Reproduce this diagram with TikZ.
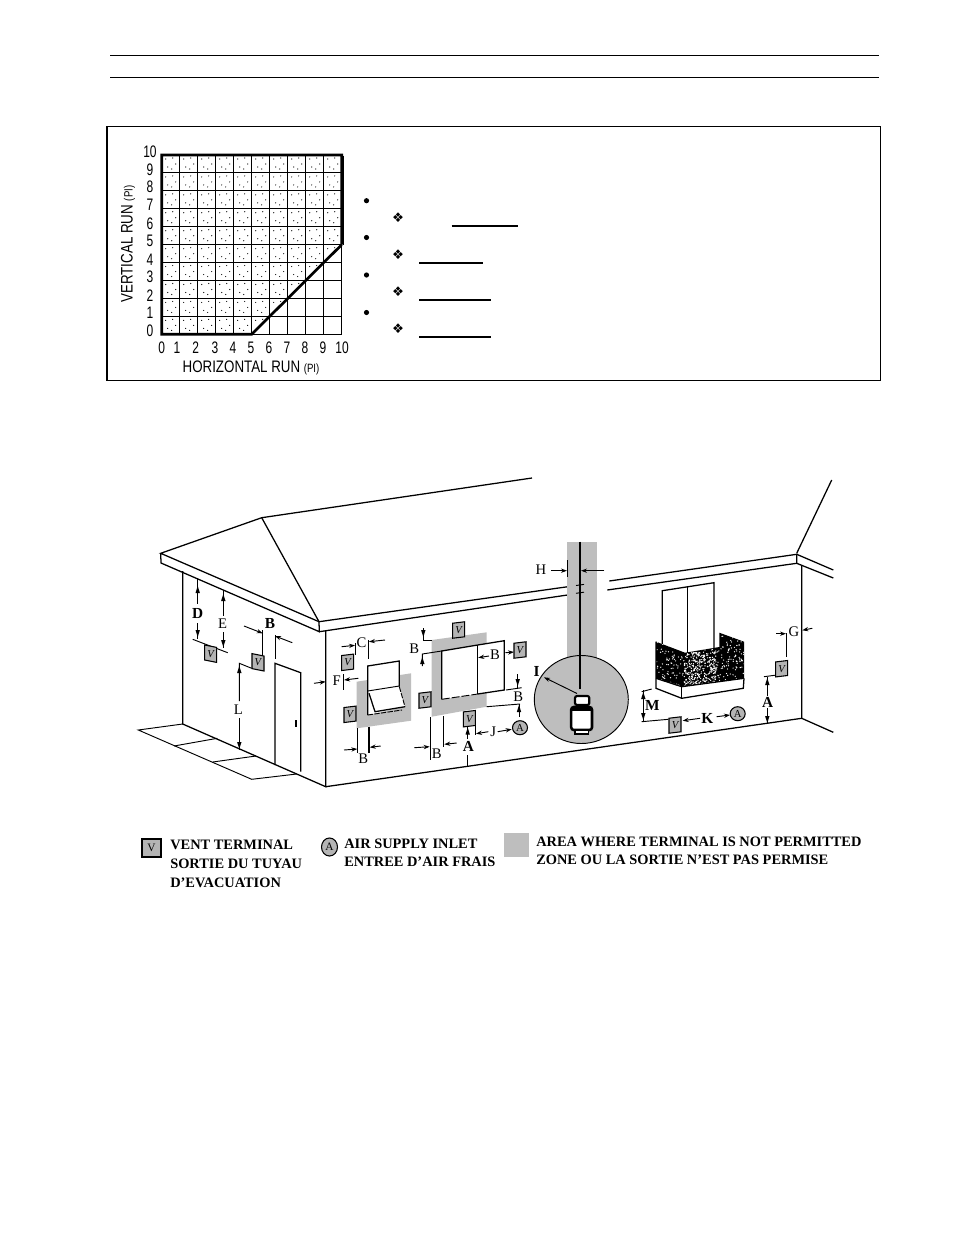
\documentclass[tikz,border=0pt]{standalone}
\usepackage{fontspec}
\usetikzlibrary{arrows.meta}
\setmainfont{Liberation Serif}
\newfontfamily\cadfont{Liberation Sans}
\newfontfamily\symfont{DejaVu Sans}
\definecolor{zonegray}{HTML}{BEBEBE}
\definecolor{termgray}{HTML}{B4B4B4}
\tikzset{
  wall/.style={line width=.95pt,black},
  thinl/.style={line width=.7pt,black},
  gridl/.style={line width=.7pt,black},
  heavy/.style={line width=2pt,black},
  zone/.style={fill=zonegray,draw=none},
  dimar/.style={line width=.7pt,-{Stealth[length=4.5pt,width=3.2pt]}},
  dimlabel/.style={font=\fontsize{11}{11}\selectfont,inner sep=0pt},
  dimbold/.style={font=\fontsize{11.5}{11}\selectfont\bfseries,inner sep=0pt},
  cad/.style={font=\fontsize{12.5}{12}\selectfont\cadfont,inner sep=0pt},
  legend/.style={font=\fontsize{10.8}{11}\selectfont\bfseries,inner sep=0pt,anchor=west},
}
\newcommand{\cadtext}[1]{\scalebox{.72}[1]{#1}}
\newcommand{\vterm}[3]{%
  \filldraw[fill=termgray,draw=black,line width=.8pt]
    (#1-6,#2-7.5-#3*1.2) -- (#1+6,#2-7.5+#3*1.2) -- (#1+6,#2+7.5+#3*1.2) -- (#1-6,#2+7.5-#3*1.2) -- cycle;
  \node[inner sep=0pt,font=\fontsize{8}{8}\selectfont\itshape] at (#1,#2) {V};}
\newcommand{\airin}[2]{%
  \filldraw[fill=termgray,draw=black,line width=.8pt] (#1,#2) ellipse [x radius=7.5,y radius=7];
  \node[inner sep=0pt,font=\fontsize{8}{8}\selectfont] at (#1,#2) {A};}
\newcommand{\dtip}[3]{\fill[shift={(#1,#2)},rotate=#3] (0,0) -- (-7,-2.2) -- (-7,2.2) -- cycle;}
\begin{document}
\begin{tikzpicture}[x=.75pt,y=-.75pt]
\useasboundingbox (0,0) rectangle (954,1235);
\fill[white] (0,0) rectangle (954,1235);
% header
\draw[line width=.75pt] (110,55.5) -- (879,55.5);
\draw[line width=.75pt] (110,77.5) -- (879,77.5);
\draw[line width=.8pt] (107,126.5) rectangle (880.5,380.5);
% chart
\begin{scope}
\clip (161.7,334.3) -- (251.7,334.3) -- (341.7,244.7) -- (341.7,155) -- (161.7,155) -- cycle;
\foreach \i in {0,...,9}{\foreach \j in {0,...,9}{
  \foreach \a/\b in {4/4,11/3,14/9,6/12,10/14}{
    \fill (161.7+18*\i+\a,155+17.93*\j+\b) circle [radius=.6];}}}
\end{scope}
\foreach \i in {0,...,10}{
  \draw[gridl] (161.7+18*\i,155) -- (161.7+18*\i,334.3);
  \draw[gridl] (161.7,155+17.93*\i) -- (341.7,155+17.93*\i);}
\draw[heavy] (341.7,244.7) -- (251.7,334.3) -- (161.7,334.3) -- (161.7,155) -- (341.7,155) -- (341.7,244.7);
\draw[line width=.9pt] (343.7,155.5) -- (343.7,245);
\foreach \t/\y in {10/152,9/170,8/187,7/205,6/224,5/241,4/260,3/277,2/296,1/313,0/331}{
  \node[cad] at (150,\y) {\cadtext{\t}};}
\foreach \t/\x in {0/161.7,1/177,2/195.7,3/215,4/233,5/251,6/269,7/287,8/305,9/323,10/342}{
  \node[cad] at (\x,348) {\cadtext{\t}};}
\node[cad,rotate=90] at (128,244) {\scalebox{.8}[1]{VERTICAL RUN \fontsize{9}{9}\selectfont(PI)}};
\node[cad] at (251,367.7) {\scalebox{.8}[1]{HORIZONTAL RUN \fontsize{9}{9}\selectfont(PI)}};
% list marks
\foreach \y in {200.7,237.5,275,312.5}{\fill (366.5,\y) circle [radius=2.6];}
\foreach \y in {217.7,254.5,292,329}{\node[inner sep=0pt,font=\fontsize{10}{10}\selectfont\symfont] at (398,\y) {❖};}
\draw[line width=1.4pt] (451.7,225.7) -- (517.7,225.7);
\draw[line width=.8pt] (419.3,263) -- (482.7,263);
\draw[line width=.8pt] (419.3,300) -- (491,300);
\draw[line width=.8pt] (419.3,337) -- (491,337);
% roof
\draw[wall] (532,478) -- (261.7,517.7) -- (160.7,553.3) -- (319,621.7) -- (319.3,631.7) -- (161,563) -- (160.7,553.3);
\draw[wall] (261.7,517.7) -- (319,621.7);
\draw[wall] (319,621.7) -- (580,585);
\draw[wall] (319.3,631.7) -- (583,592.7);
\draw[wall] (609.3,581) -- (796.7,554.3) -- (796.7,563.3) -- (607.3,590);
\draw[wall] (796.7,553.3) -- (831.7,480);
\draw[wall] (796.7,554.3) -- (833.3,570);
\draw[wall] (796.7,563.3) -- (833.3,578);
% walls
\draw[wall] (182.7,571) -- (182.7,724) -- (325.7,786.7) -- (325.7,631);
\draw[wall] (325.7,786.7) -- (801.7,718.3) -- (801.7,565);
\draw[wall] (801.7,718.3) -- (833.3,732.3);
% pavement
\draw[thinl] (182.7,724) -- (138.3,730) -- (251.7,779.3) -- (296.7,774);
\draw[thinl] (174,746) -- (217.3,738.3);
\draw[thinl] (212.7,762) -- (256,756);
% door
\draw[wall] (275,765) -- (275,663.3) -- (300.7,672.7) -- (300.7,771.7);
\draw[line width=1.8pt] (295.7,720) -- (295.7,726.7);
% left wall dimensions
\draw[thinl] (197.7,578.3) -- (197.7,604);
\draw[thinl] (197.7,623) -- (197.7,638.5);
\draw[thinl] (192.7,639.3) -- (227.7,652.7);
\dtip{197.7}{586}{90}\dtip{197.7}{637}{-90}
\node[dimbold] at (197.7,613.3) {D};
\draw[thinl] (223.3,590) -- (223.3,616);
\draw[thinl] (223.3,632) -- (223.3,648.3);
\dtip{223.3}{594}{90}\dtip{223.3}{647}{-90}
\node[dimlabel] at (222.7,624) {E};
\vterm{210.7}{653.7}{1}
\vterm{258}{662.3}{1}
\draw[thinl] (262.7,630) -- (262.7,655);
\draw[dimar] (244,626) -- (262.7,633.3);
\draw[thinl] (275,635) -- (275,659.3);
\draw[dimar] (292.3,642.7) -- (275,636);
\node[dimbold] at (270,623.3) {B};
\draw[thinl] (251.7,668.3) -- (239.3,663.3) -- (239.3,701);
\draw[thinl] (239.3,718) -- (239.3,750);
\dtip{239.3}{666}{90}\dtip{239.3}{749}{-90}
\node[dimlabel] at (238.3,709.3) {L};
% window 1
\fill[zone] (356.7,681.7) -- (411,673.3) -- (411,720.7) -- (356.7,728.3) -- cycle;
\fill[white] (367.7,666) -- (399.3,661) -- (399.3,686.7) -- (405,706.7) -- (367.7,715) -- cycle;
\draw[wall] (367.7,715) -- (367.7,666) -- (399.3,661) -- (399.3,686.7);
\draw[thinl] (367.7,691) -- (399.3,686);
\draw[wall] (369,693.3) -- (375,711.7) -- (405,706.7);
\draw[thinl,dash pattern=on 4pt off 1pt] (399.3,686.7) -- (405,706.7);
\draw[thinl,dash pattern=on 4pt off 1pt] (367.7,715) -- (402,710);
\draw[thinl] (355.3,643) -- (355.3,655);
\draw[dimar] (341.7,646.7) -- (355,645.3);
\draw[wall] (368.3,640) -- (368.3,659.3);
\draw[dimar] (385,640) -- (369,641.7);
\node[dimlabel] at (361.5,642.3) {C};
\vterm{347.7}{662.3}{-.6}
\draw[dimar] (314,683.3) -- (325.7,681.7);
\node[dimlabel] at (336.7,680.3) {F};
\draw[thinl] (343.3,674) -- (343.3,690);
\draw[dimar] (358.3,678.3) -- (344,680);
\vterm{350}{714.3}{-.6}
\draw[thinl] (357.7,728.3) -- (357.7,753.3);
\draw[line width=1.3pt] (369,726.7) -- (369,752.7);
\draw[dimar] (344,750) -- (357.3,749);
\draw[dimar] (380.7,746) -- (369.7,747.3);
\node[dimlabel] at (363.3,758.3) {B};
% window 2
\fill[zone] (431.7,640) -- (486.7,632.3) -- (486.7,706.7) -- (431.7,716.7) -- cycle;
\fill[white] (441.7,651) -- (477.7,645) -- (486.7,643.5) -- (504.3,640.7) -- (504.3,690) -- (441.7,699.3) -- cycle;
\draw[wall] (477.7,645) -- (441.7,651) -- (441.7,699.3);
\draw[wall] (477.7,645) -- (477.7,694);
\draw[wall] (477.7,645) -- (504.3,640.7) -- (504.3,690) -- (477.7,694);
\draw[thinl,dash pattern=on 6pt off 1.5pt] (441.7,699.3) -- (477.7,694);
\draw[thinl] (423.3,628.3) -- (423.3,640) -- (431.7,640);
\draw[thinl] (422.3,666) -- (422.3,654) -- (441.7,651);
\dtip{423.3}{637}{-90}\dtip{422.3}{657}{90}
\node[dimlabel] at (414.3,648.3) {B};
\vterm{458.7}{630}{-.6}
\draw[dimar] (489,656) -- (478.2,657.7);
\node[dimlabel] at (495,655) {B};
\draw[dimar] (505.5,652.7) -- (514,652);
\vterm{520}{650}{-.6}
\draw[thinl] (506,690) -- (521.7,687.7);
\draw[thinl] (517.7,674.3) -- (517.7,688);
\dtip{517.7}{686}{-90}
\node[dimlabel] at (518.3,696.7) {B};
\draw[thinl] (486.7,706.7) -- (520,704);
\draw[thinl] (519,704) -- (519,717.3);
\dtip{519}{705}{90}
\vterm{425}{700}{-.6}
\vterm{469.3}{718.7}{-.6}
\draw[thinl] (430.7,717.3) -- (430.7,760);
\draw[thinl] (443.7,716) -- (443.7,746.7);
\draw[dimar] (414.3,747.7) -- (429.7,746.7);
\draw[dimar] (456.7,743) -- (444.3,744.3);
\node[dimlabel] at (436.7,753.3) {B};
\draw[thinl] (467.7,727) -- (467.7,739);
\dtip{467.7}{727.5}{90}
\node[dimbold] at (468.3,746.7) {A};
\draw[thinl] (467.7,755) -- (467.7,766.7);
\draw[thinl] (475.3,713.3) -- (475.3,735);
\draw[dimar] (488.3,731.7) -- (476,733.7);
\node[dimlabel] at (493.3,731.3) {J};
\draw[dimar] (497.7,731.7) -- (511.7,729.3);
\airin{520}{727.7}
% chimney zone and tank
\fill[zone] (567.3,542.3) rectangle (597.3,665);
\filldraw[fill=zonegray,draw=black,line width=.7pt] (581.3,699.5) ellipse [x radius=47,y radius=44];
\draw[line width=1.1pt] (580,541.7) -- (580,689);
\draw[thinl] (576,585.5) -- (584,584.4);
\draw[thinl] (576,593.3) -- (584,592.2);
\node[dimbold] at (536.7,671) {I};
\draw[thinl,{Stealth[length=4.5pt,width=3.2pt]}-] (544,677.3) -- (577,693.5);
\filldraw[fill=white,draw=black,line width=1.6pt,rounded corners=1.5pt] (575,696) rectangle (589.3,705);
\filldraw[fill=white,draw=black,line width=1.9pt,rounded corners=2pt] (571.2,707) rectangle (592,730);
\fill (572,706.5) rectangle (591.5,711);
\filldraw[fill=white,draw=black,line width=1.2pt] (575,730.5) rectangle (588.3,734);
\node[dimlabel] at (541,570) {H};
\draw[dimar] (551,570.7) -- (567,570.7);
\draw[thinl] (567.3,560) -- (567.3,576.7);
\draw[dimar] (604.3,570.7) -- (581,570.7);
% balcony
\draw[wall] (662.3,648) -- (662.3,590.7) -- (714,582.7) -- (714,650);
\draw[wall] (687.7,586.7) -- (687.7,655);
\begin{scope}
\clip (656,641.7) -- (685,652.7) -- (719.3,647) -- (719.3,632.7) -- (744,641.7) -- (744,678.3) -- (681.7,686.7) -- (656,678.3) -- cycle;
\fill[black] (650,625) rectangle (750,692);
\pgfmathsetseed{17}
\foreach \k in {1,...,420}{
  \pgfmathsetmacro{\px}{700+47*rand}
  \pgfmathsetmacro{\py}{662+28*rand}
  \fill[white] (\px,\py) circle [radius=.65];}
\foreach \k in {1,...,260}{
  \pgfmathsetmacro{\px}{700+16*rand}
  \pgfmathsetmacro{\py}{668+16*rand}
  \fill[white] (\px,\py) circle [radius=.7];}
\end{scope}
\draw[wall] (656,641.7) -- (656,688.3) -- (681.7,698.3) -- (743.3,688.3) -- (744,678.3);
\draw[wall] (681.7,686.7) -- (681.7,698.3);
\draw[wall] (656,678.3) -- (681.7,686.7) -- (744,678.3);
\draw[thinl] (641.7,691.7) -- (651.7,689);
\draw[thinl] (643.3,690) -- (643.3,721.7);
\draw[thinl] (641.7,721.7) -- (668.3,719.3);
\dtip{643.3}{692}{90}\dtip{643.3}{720}{-90}
\node[dimbold] at (652.3,705) {M};
\vterm{675}{725}{-.6}
\draw[dimar] (700,718.3) -- (682.7,720.7);
\node[dimbold] at (707.3,718.3) {K};
\draw[dimar] (716.7,716.7) -- (730,715);
\airin{737.7}{713.7}
\draw[thinl] (764,676.7) -- (776.7,675);
\vterm{781.7}{668.7}{-.6}
\draw[thinl] (767.3,676.7) -- (767.3,696);
\dtip{767.3}{678}{90}
\node[dimbold] at (767.7,702.3) {A};
\draw[thinl] (767.3,708) -- (767.3,723.3);
\dtip{767.3}{723}{-90}
\draw[thinl] (786.7,633.3) -- (786.7,656.7);
\draw[dimar] (776,633.7) -- (786,633.7);
\node[dimlabel] at (794,631.7) {G};
\draw[dimar] (812.3,628.3) -- (802.3,630.3);
% legend
\filldraw[fill=termgray,draw=black,line width=.8pt] (142,839) rectangle (161,857);
\node[inner sep=0pt,font=\fontsize{8.5}{8}\selectfont] at (151.5,848) {V};
\node[legend] at (170,845) {VENT TERMINAL};
\node[legend] at (170,864) {SORTIE DU TUYAU};
\node[legend] at (170,883) {D'EVACUATION};
\filldraw[fill=termgray,draw=black,line width=.8pt] (329.5,847) ellipse [x radius=8,y radius=9];
\node[inner sep=0pt,font=\fontsize{8.5}{8}\selectfont] at (329.5,847) {A};
\node[legend] at (344,844) {AIR SUPPLY INLET};
\node[legend] at (344,862) {ENTREE D'AIR FRAIS};
\fill[zone] (504.4,833) rectangle (529,857);
\node[legend] at (536,842) {AREA WHERE TERMINAL IS NOT PERMITTED};
\node[legend] at (536,860) {ZONE OU LA SORTIE N'EST PAS PERMISE};
\end{tikzpicture}
\end{document}
